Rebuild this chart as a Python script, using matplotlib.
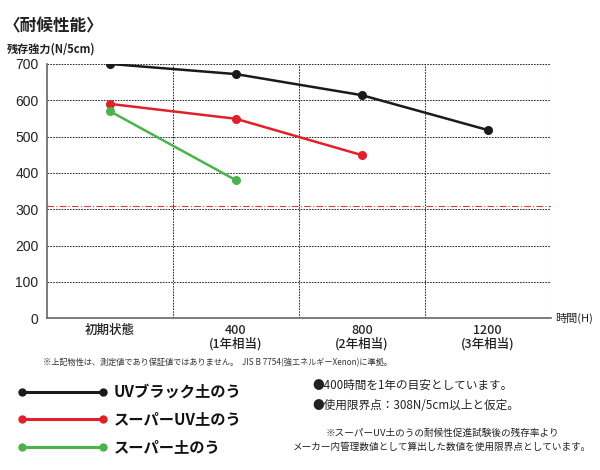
import matplotlib.pyplot as plt

plt.rcParams['font.family'] = ['Noto Sans CJK JP', 'DejaVu Sans']

# data
categories = ['初期状態', '400\n(1年相当)', '800\n(2年相当)', '1200\n(3年相当)']
uv_black = [700, 672, 614, 518]
super_uv = [590, 549, 449]
super_plain = [570, 380]
limit_value = 308
yticks = [0, 100, 200, 300, 400, 500, 600, 700]

series_names = ['UVブラック土のう', 'スーパーUV土のう', 'スーパー土のう']
series_colors = ['#1a1a1a', '#e0202a', '#4cb24c']

fig = plt.figure(figsize=(6, 4.7), dpi=100)
ax = fig.add_axes([0.078, 0.323, 0.84, 0.541])

for vals, c in zip([uv_black, super_uv, super_plain], series_colors):
    ax.plot(range(len(vals)), vals, color=c, lw=1.8, marker='o', ms=5.5, zorder=3)

ax.axhline(limit_value, color='#d04040', lw=0.8, ls=(0, (6, 2, 1, 2)), zorder=2)

ax.set_xlim(-0.5, 3.5)
ax.set_ylim(0, 700)
ax.set_yticks(yticks)
ax.set_xticks(range(len(categories)))
ax.set_xticklabels(categories, fontsize=9, linespacing=1.05, fontweight=500)
ax.tick_params(axis='y', labelsize=10, length=0, pad=6)
ax.tick_params(axis='x', length=0, pad=4)
for t in ax.get_yticklabels():
    t.set_family(['Liberation Sans', 'DejaVu Sans'])
    t.set_color('#222222')
for t in ax.get_xticklabels():
    t.set_color('#222222')

for y in yticks[1:]:
    ax.axhline(y, color='#333333', lw=0.75, ls=(0, (1.6, 1.1)), zorder=1)
for x in [0.5, 1.5, 2.5, 3.5]:
    ax.axvline(x, color='#333333', lw=0.75, ls=(0, (1.6, 1.1)), zorder=1)

for s in ['top', 'right']:
    ax.spines[s].set_visible(False)
for s in ['left', 'bottom']:
    ax.spines[s].set_color('#666666')
    ax.spines[s].set_linewidth(1.2)

fig.text(0.006, 0.943, '〈耐候性能〉', fontsize=12, fontweight='bold', va='center', color='#222222')
fig.text(0.011, 0.896, '残存強力(N/5cm)', fontsize=8, fontweight='bold', va='center', color='#222222')
fig.text(0.925, 0.323, '時間(H)', fontsize=8, va='center', color='#222222')
fig.text(0.071, 0.228, '※上記物性は、測定値であり保証値ではありません。  JIS B 7754(強エネルギーXenon)に準拠。',
         fontsize=5.9, va='center', color='#333333')

# legend
leg_y = [0.166, 0.109, 0.049]
for name, c, y in zip(series_names, series_colors, leg_y):
    fig.add_artist(plt.Line2D([0.037, 0.171], [y, y], color=c, lw=2.2, marker='o', ms=5,
                              transform=fig.transFigure))
    fig.text(0.19, y, name, fontsize=11, fontweight='bold', va='center', color='#111111')

fig.text(0.52, 0.181, '●400時間を1年の目安としています。', fontsize=8.4, va='center', color='#222222')
fig.text(0.52, 0.138, '●使用限界点：308N/5cm以上と仮定。', fontsize=8.4, va='center', color='#222222')
fig.text(0.737, 0.079, '※スーパーUV土のうの耐候性促進試験後の残存率より', fontsize=6.9, va='center',
         ha='center', color='#222222')
fig.text(0.737, 0.049, 'メーカー内管理数値として算出した数値を使用限界点としています。', fontsize=6.9,
         va='center', ha='center', color='#222222')

fig.savefig('out.png', dpi=100)
